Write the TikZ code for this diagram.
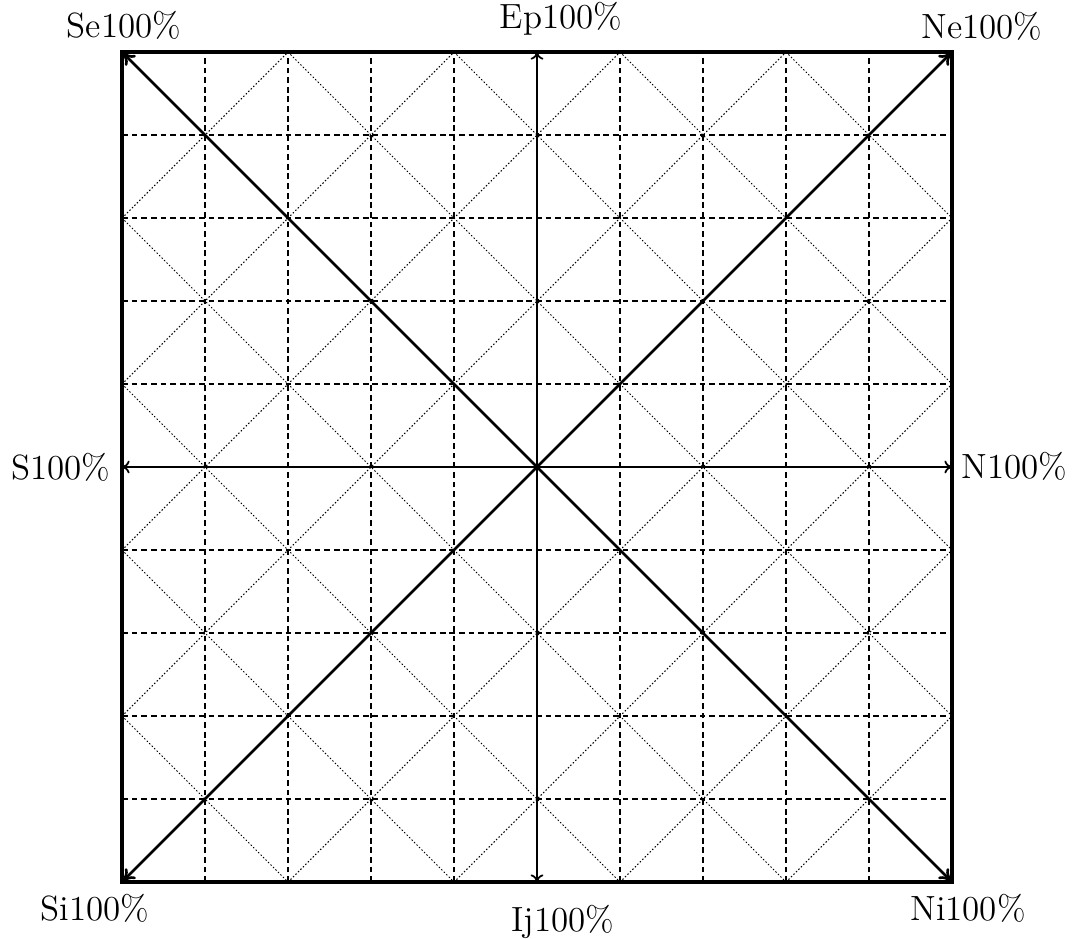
\documentclass[tikz,border=0pt]{standalone}
\usetikzlibrary{arrows.meta}
\begin{document}
\begin{tikzpicture}[
  gridline/.style={line width=0.4pt, dash pattern=on 2pt off 1.3pt},
  diagline/.style={line width=0.35pt, dash pattern=on 0.5pt off 0.7pt},
  frameline/.style={line width=1.1pt},
  tipbig/.tip={To[length=4.5pt,width=5pt]},
  tipsmall/.tip={To[length=2.6pt,width=4.4pt]},
  mainline/.style={line width=0.9pt, arrows={tipbig-tipbig}},
  axisline/.style={line width=0.6pt, arrows={tipsmall-tipsmall}},
  lbl/.style={font=\large, anchor=base, inner sep=0pt}
]
\useasboundingbox (-1.470,-0.675) rectangle (11.482,10.627);
% corners and side midpoints
\coordinate (SW) at (0,0);
\coordinate (SE) at (10,0);
\coordinate (NE) at (10,10);
\coordinate (NW) at (0,10);
\coordinate (Wm) at (0,5);
\coordinate (Em) at (10,5);
\coordinate (Nm) at (5,10);
\coordinate (Sm) at (5,0);
% dashed grid
\foreach \i in {1,2,3,4,6,7,8,9}{
  \draw[gridline] (\i,0) -- (\i,10);
  \draw[gridline] (0,\i) -- (10,\i);
}
% dotted diagonals
\foreach \k in {2,4,6,8}{
  \draw[diagline] (0,\k) -- (\k,0);
  \draw[diagline] (\k,0) -- (10,10-\k);
  \draw[diagline] (0,\k) -- (10-\k,10);
}
\foreach \k in {12,14,16,18}{
  \draw[diagline] (\k-10,10) -- (10,\k-10);
}
% frame
\draw[frameline] (SW) -- (SE) -- (NE) -- (NW) -- cycle;
% axes
\draw[axisline] (Wm) -- (Em);
\draw[axisline] (Sm) -- (Nm);
% main diagonals
\draw[mainline] (SW) -- (NE);
\draw[mainline] (SE) -- (NW);
% labels
\node[lbl] (lSe) at (0.024,10.169) {Se100\%};
\node[lbl] (lEp) at (5.289,10.289) {Ep100\%};
\node[lbl] (lNe) at (10.361,10.157) {Ne100\%};
\node[lbl] (lS) at (-0.735,4.855) {S100\%};
\node[lbl] (lN) at (10.753,4.867) {N100\%};
\node[lbl] (lSi) at (-0.325,-0.458) {Si100\%};
\node[lbl] (lIj) at (5.313,-0.602) {Ij100\%};
\node[lbl] (lNi) at (10.193,-0.458) {Ni100\%};
\end{tikzpicture}
\end{document}
